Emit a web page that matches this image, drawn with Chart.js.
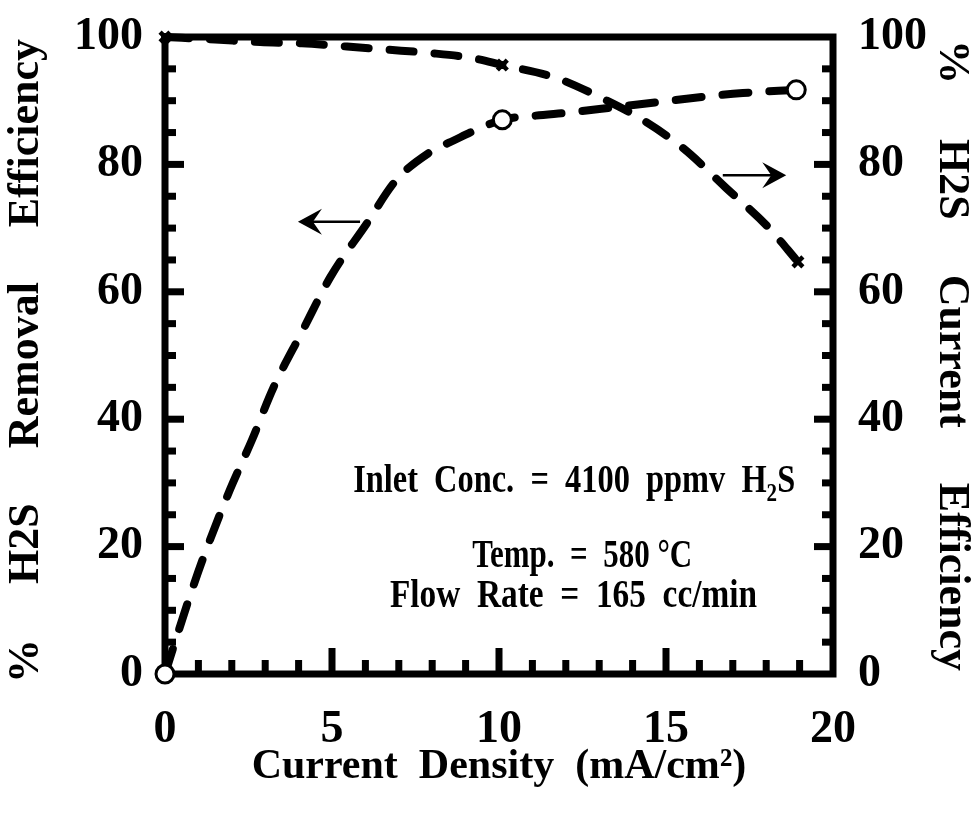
<!DOCTYPE html>
<html>
<head>
<meta charset="utf-8">
<script src="https://cdn.jsdelivr.net/npm/chart.js@4.4.1/dist/chart.umd.min.js"></script>
<style>
  html, body { margin: 0; padding: 0; background: #ffffff; }
  #wrap { width: 978px; height: 824px; }
</style>
</head>
<body>
<div id="wrap"><canvas id="c" width="978" height="824"></canvas></div>
<script>
// ---------------- data ----------------
const removalCurveX = [0, 0.3, 0.7, 1.15, 1.95, 2.6, 3.25, 4.1, 4.95, 6.05, 6.9, 7.9, 8.5, 10.1, 11, 12.2, 13.5, 14.8, 16.1, 17.3, 18.9];
const removalCurveY = [0, 5, 11.5, 18.3, 29, 36.7, 45, 53.7, 62.3, 70.8, 77.4, 81.8, 83.4, 87, 87.6, 88.2, 89, 89.8, 90.6, 91.2, 91.7];
const removalPointsX = [0, 10.1, 18.9];
const removalPointsY = [0, 87, 91.7];

const currentCurveX = [0, 1.5, 2.85, 4.1, 5.45, 6.7, 7.9, 9.2, 10.1, 11.7, 13, 14.2, 15.5, 16.8, 18.05, 18.95];
const currentCurveY = [100, 99.6, 99.2, 99, 98.5, 98, 97.5, 96.7, 95.6, 93.6, 90.6, 87.3, 82.6, 76.3, 70.2, 64.7];
const currentPointsX = [0, 10.1, 18.95];
const currentPointsY = [100, 95.6, 64.7];

const xTickLabels = ['0', '5', '10', '15', '20'];
const yTickLabels = ['0', '20', '40', '60', '80', '100'];

const xTitle = 'Current  Density  (mA/cm²)';
const yLeftTitle = '%     H2S     Removal     Efficiency ';
const yRightTitle = '%     H2S     Current     Efficiency';
const noteLines = ['Inlet  Conc.  =  4100  ppmv  H', 'Temp.  =  580 °C', 'Flow  Rate  =  165  cc/min'];

const zip = (xs, ys) => xs.map((x, i) => ({ x: x, y: ys[i] }));

const FONT = '"Liberation Serif", "Times New Roman", serif';

// ---------------- overlay plugin: frame, inward ticks, arrows, notes ----------------
const overlay = {
  id: 'overlay',
  beforeDatasetsDraw(chart) {
    const { ctx, chartArea: a, scales } = chart;
    ctx.save();
    ctx.fillStyle = '#000';
    scales.x.ticks.forEach(t => {
      if (t.value <= 0 || t.value >= 20) return;
      const px = scales.x.getPixelForValue(t.value);
      const len = (t.value % 5 === 0) ? 26 : 14;
      ctx.fillRect(px - 3.5, a.bottom - len, 7, len);
    });
    scales.y.ticks.forEach(t => {
      if (t.value <= 0 || t.value >= 100) return;
      const py = scales.y.getPixelForValue(t.value);
      const len = (t.value % 20 === 0) ? 19 : 11;
      ctx.fillRect(a.left, py - 3.5, len, 7);
    });
    scales.y1.ticks.forEach(t => {
      if (t.value <= 0 || t.value >= 100) return;
      const py = scales.y1.getPixelForValue(t.value);
      const len = (t.value % 20 === 0) ? 19 : 11;
      ctx.fillRect(a.right - len, py - 3.5, len, 7);
    });
    ctx.strokeStyle = '#000';
    ctx.lineWidth = 7;
    ctx.strokeRect(a.left, a.top, a.right - a.left, a.bottom - a.top);
    ctx.restore();
  },
  afterDatasetsDraw(chart) {
    const { ctx, scales } = chart;
    const X = v => scales.x.getPixelForValue(v);
    const Y = v => scales.y.getPixelForValue(v);
    ctx.save();
    ctx.strokeStyle = '#000';
    ctx.fillStyle = '#000';
    const arrows = [
      { x1: 5.84, y1: 71, x2: 3.98, y2: 71 },
      { x1: 16.7, y1: 78.3, x2: 18.6, y2: 78.3 }
    ];
    arrows.forEach(ar => {
      const x1 = X(ar.x1), y1 = Y(ar.y1), x2 = X(ar.x2), y2 = Y(ar.y2);
      const dir = Math.sign(x2 - x1);
      ctx.lineWidth = 2.5;
      ctx.beginPath();
      ctx.moveTo(x1, y1);
      ctx.lineTo(x2 - dir * 6, y2);
      ctx.stroke();
      ctx.beginPath();
      ctx.moveTo(x2, y2);
      ctx.lineTo(x2 - dir * 24, y2 - 13);
      ctx.lineTo(x2 - dir * 15, y2);
      ctx.lineTo(x2 - dir * 24, y2 + 13);
      ctx.closePath();
      ctx.fill();
    });
    const drawFitted = (text, cx, baseline, width, size) => {
      ctx.font = 'bold ' + size + 'px ' + FONT;
      const w = ctx.measureText(text).width;
      ctx.save();
      ctx.translate(cx, baseline);
      ctx.scale(width / w, 1);
      ctx.textAlign = 'center';
      ctx.textBaseline = 'alphabetic';
      ctx.fillText(text, 0, 0);
      ctx.restore();
    };
    {
      const size = 40;
      ctx.font = 'bold ' + size + 'px ' + FONT;
      const main = noteLines[0];
      const wMain = ctx.measureText(main).width;
      ctx.font = 'bold 26px ' + FONT;
      const wSub = ctx.measureText('2').width;
      ctx.font = 'bold ' + size + 'px ' + FONT;
      const wS = ctx.measureText('S').width;
      const total = wMain + wSub + wS;
      const target = 442;
      const k = target / total;
      const left = X(12.25) - target / 2;
      const base = Y(28.6);
      ctx.save();
      ctx.translate(left, base);
      ctx.scale(k, 1);
      ctx.textAlign = 'left';
      ctx.textBaseline = 'alphabetic';
      ctx.fillText(main, 0, 0);
      ctx.font = 'bold 26px ' + FONT;
      ctx.fillText('2', wMain, 9);
      ctx.font = 'bold ' + size + 'px ' + FONT;
      ctx.fillText('S', wMain + wSub, 0);
      ctx.restore();
    }
    drawFitted(noteLines[1], X(12.49), Y(16.8), 220, 40);
    drawFitted(noteLines[2], X(12.23), Y(10.5), 367, 40);
    ctx.restore();
  }
};

const noPad = s => { s.paddingTop = 0; s.paddingBottom = 0; s.paddingLeft = 0; s.paddingRight = 0; };

// ---------------- chart ----------------
const ctx = document.getElementById('c').getContext('2d');
new Chart(ctx, {
  type: 'line',
  data: {
    datasets: [
      {
        label: '% H2S Removal Efficiency',
        data: zip(removalPointsX, removalPointsY),
        yAxisID: 'y',
        order: 0,
        showLine: false,
        pointStyle: 'circle',
        pointRadius: 9,
        pointBorderWidth: 3,
        pointBorderColor: '#000',
        pointBackgroundColor: '#fff',
        clip: false
      },
      {
        label: '% H2S Current Efficiency',
        data: zip(currentPointsX, currentPointsY),
        yAxisID: 'y1',
        order: 0,
        showLine: false,
        pointStyle: 'crossRot',
        pointRadius: 7,
        pointBorderWidth: 4.5,
        pointBorderColor: '#000',
        pointBackgroundColor: '#000',
        clip: false
      },
      {
        label: 'Removal curve',
        data: zip(removalCurveX, removalCurveY),
        yAxisID: 'y',
        order: 1,
        borderColor: '#000',
        borderWidth: 8,
        borderDash: [26, 21],
        borderCapStyle: 'round',
        cubicInterpolationMode: 'monotone',
        pointRadius: 0,
        fill: false,
        clip: false
      },
      {
        label: 'Current curve',
        data: zip(currentCurveX, currentCurveY),
        yAxisID: 'y1',
        order: 1,
        borderColor: '#000',
        borderWidth: 8,
        borderDash: [24, 21],
        borderCapStyle: 'round',
        cubicInterpolationMode: 'monotone',
        pointRadius: 0,
        fill: false,
        clip: false
      }
    ]
  },
  options: {
    responsive: false,
    animation: false,
    devicePixelRatio: 1,
    layout: { padding: { top: 37, left: 0, right: 0, bottom: 0 } },
    plugins: { legend: { display: false }, tooltip: { enabled: false } },
    scales: {
      x: {
        type: 'linear',
        position: 'bottom',
        min: 0, max: 20,
        grid: { display: false, drawTicks: false, tickLength: 0 },
        border: { display: false },
        ticks: {
          stepSize: 1, autoSkip: false, maxRotation: 0, padding: 29,
          color: '#000',
          font: { family: FONT, size: 46, weight: 'bold' },
          callback: v => (v % 5 === 0 ? xTickLabels[v / 5] : '')
        },
        title: {
          display: true, text: xTitle, color: '#000',
          font: { family: FONT, size: 42, weight: 'bold', lineHeight: 1.0 },
          padding: { top: 0, bottom: 36 }
        },
        afterFit: s => { s.height = 150; noPad(s); }
      },
      y: {
        type: 'linear',
        position: 'left',
        min: 0, max: 100,
        grid: { display: false, drawTicks: false, tickLength: 0 },
        border: { display: false },
        ticks: {
          stepSize: 5, autoSkip: false, padding: 22,
          color: '#000',
          font: { family: FONT, size: 46, weight: 'bold' },
          callback: v => (v % 20 === 0 ? yTickLabels[v / 20] : '')
        },
        title: {
          display: true, text: yLeftTitle, color: '#000',
          font: { family: FONT, size: 44, weight: 'bold', lineHeight: 1.0 },
          padding: { top: 5, bottom: 0 }
        },
        afterFit: s => { s.width = 165; noPad(s); }
      },
      y1: {
        type: 'linear',
        position: 'right',
        min: 0, max: 100,
        grid: { display: false, drawTicks: false, tickLength: 0 },
        border: { display: false },
        ticks: {
          stepSize: 5, autoSkip: false, padding: 25,
          color: '#000',
          font: { family: FONT, size: 46, weight: 'bold' },
          callback: v => (v % 20 === 0 ? yTickLabels[v / 20] : '')
        },
        title: {
          display: true, text: yRightTitle, color: '#000',
          font: { family: FONT, size: 44, weight: 'bold', lineHeight: 1.0 },
          padding: { top: 5, bottom: 0 }
        },
        afterFit: s => { s.width = 145; noPad(s); }
      }
    }
  },
  plugins: [overlay]
});
</script>
</body>
</html>
